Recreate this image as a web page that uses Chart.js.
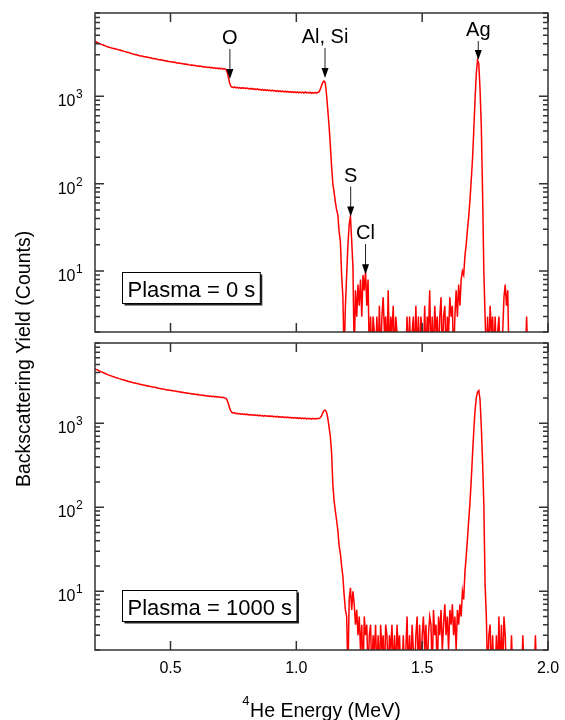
<!DOCTYPE html>
<html>
<head>
<meta charset="utf-8">
<script src="https://cdn.jsdelivr.net/npm/chart.js@4.4.1/dist/chart.umd.min.js"></script>
<style>
  html, body { margin: 0; padding: 0; background: #fff; }
  #wrap { position: relative; width: 565px; height: 720px; }
  #wrap canvas { position: absolute; left: 0; top: 0; }
</style>
</head>
<body>
<div id="wrap">
  <canvas id="topPanel" width="565" height="720"></canvas>
  <canvas id="bottomPanel" width="565" height="720"></canvas>
</div>
<script>
// RBS spectra, counts per channel. Channel 0 = 0.200 MeV, 5 keV per channel.
const firstChannelMeV = 0.2;
const channelWidthMeV = 0.005;

const counts0s = [
  4300,4190,4130,4050,4000,3940,3890,3840,3790,3730,3700,3640,3630,3570,3560,3510,3530,3460,3450,3400,
  3390,3330,3320,3270,3250,3220,3170,3180,3110,3100,3060,3040,2990,3010,2950,2930,2900,2890,2870,2840,
  2840,2800,2820,2760,2760,2730,2700,2720,2670,2670,2640,2620,2640,2590,2590,2570,2540,2560,2510,2510,
  2490,2470,2490,2440,2450,2410,2400,2420,2370,2370,2360,2330,2350,2300,2320,2290,2270,2290,2250,2270,
  2240,2220,2240,2200,2220,2180,2190,2160,2180,2150,2140,2160,2120,2140,2100,2120,2090,2110,2070,2100,
  2060,2090,2050,2070,2040,1900,1650,1420,1300,1270,1260,1285,1250,1270,1240,1260,1235,1255,1230,1250,
  1225,1245,1215,1235,1210,1230,1200,1220,1195,1215,1190,1205,1180,1200,1170,1190,1165,1185,1160,1180,
  1155,1175,1150,1165,1140,1160,1135,1155,1130,1150,1125,1145,1120,1140,1115,1135,1110,1130,1105,1125,
  1100,1125,1095,1120,1100,1115,1090,1120,1095,1110,1090,1115,1085,1105,1090,1110,1085,1105,1120,1200,
  1320,1440,1500,1420,1050,700,460,280,160,100,80,62,50,44,28,22,9,5,1,4,
  9,20,34,42,22,11,1,6,3,7,4,8,3,9,6,10,4,8,1,3,
  1,3,2,1,3,1,4,1,3,5,2,3,1,6,1,3,2,4,1,3,
  2,1,1,2,1,1,2,1,3,1,3,1,2,3,1,4,1,3,1,3,
  2,1,4,1,3,2,6,1,3,1,4,2,3,1,3,5,1,3,4,1,
  3,2,5,3,4,1,3,6,3,7,4,8,10,9,15,20,30,42,65,110,
  190,400,900,1800,2600,2350,1200,450,80,10,3,1,3,1,4,2,3,1,3,1,
  2,3,1,1,2,5,7,4,6,1,2,1,1,2,1,1,2,1,1,2,
  1,1,1,3,1,2,1,1,2,1,1,1,2,1,1,1,2,1,1,1,
  1
];

const counts1000s = [
  4450,4370,4310,4210,4170,4070,4040,3950,3910,3850,3790,3730,3700,3640,3610,3550,3520,3460,3450,3390,
  3370,3310,3300,3240,3240,3180,3170,3120,3110,3070,3050,3010,3000,2960,2960,2910,2910,2870,2870,2820,
  2820,2780,2790,2750,2740,2710,2700,2670,2670,2630,2620,2590,2590,2560,2560,2530,2520,2490,2500,2460,
  2470,2430,2440,2410,2410,2380,2380,2350,2360,2320,2330,2300,2300,2270,2290,2250,2260,2230,2240,2210,
  2210,2180,2200,2160,2170,2140,2160,2120,2130,2100,2120,2080,2100,2070,2090,2060,2070,2050,2060,2030,
  2040,2020,2030,2000,1980,1880,1700,1510,1390,1340,1320,1330,1300,1310,1290,1300,1280,1295,1270,1285,
  1265,1280,1255,1270,1250,1260,1240,1255,1235,1250,1225,1245,1220,1235,1215,1230,1210,1225,1205,1220,
  1200,1215,1190,1210,1185,1205,1180,1195,1175,1190,1170,1185,1165,1180,1160,1175,1155,1170,1150,1165,
  1145,1160,1140,1155,1135,1150,1130,1150,1125,1145,1125,1140,1120,1140,1125,1135,1130,1140,1135,1160,
  1220,1330,1410,1430,1350,1150,900,700,450,190,120,90,70,53,35,28,20,15,9,6,
  5,1,8,11,6,10,7,4,6,3,5,2,4,1,5,3,4,1,3,4,
  1,3,2,4,1,3,1,4,2,3,1,4,3,1,3,2,4,1,3,1,
  4,2,3,1,1,3,1,2,5,1,3,1,4,2,1,3,5,1,4,1,
  3,5,2,4,1,3,5,4,1,6,3,4,1,5,3,6,2,4,7,3,
  5,2,6,4,7,3,5,2,6,4,7,5,10,8,17,26,42,70,115,210,
  420,800,1400,2000,2350,2450,1900,900,350,110,12,5,1,3,4,1,3,1,1,3,
  1,5,1,4,1,5,3,1,1,1,1,3,1,1,2,1,1,1,2,1,
  3,1,1,2,1,1,1,1,2,1,3,1,1,1,2,1,1,1,1,1,
  1
];

const energyTicks = [0.5, 1.0, 1.5, 2.0];
const decadeTicks = [10, 100, 1000];
const captions = ['Plasma = 0 s', 'Plasma = 1000 s'];

// peak markers on the 0 s spectrum
const peakLabels = ['O', 'Al, Si', 'S', 'Cl', 'Ag'];
const peakEnergies = [0.736, 1.114, 1.216, 1.275, 1.723];
const peakCounts = [1580, 1620, 42, 9.2, 2600];

const energies = counts0s.map((_, i) => +(firstChannelMeV + i * channelWidthMeV).toFixed(3));

const FONT = "'Liberation Sans', Arial, Helvetica, sans-serif";

const rbsFrame = {
  id: 'rbsFrame',
  afterDatasetsDraw(chart, args, opts) {
    const { ctx, chartArea: a, scales: { x, y } } = chart;
    ctx.save();

    // box + inward ticks on all four sides
    ctx.strokeStyle = '#333';
    ctx.lineWidth = 1.5;
    ctx.strokeRect(a.left, a.top, a.right - a.left, a.bottom - a.top);
    ctx.beginPath();
    energyTicks.forEach(v => {
      const px = x.getPixelForValue(v);
      ctx.moveTo(px, a.bottom); ctx.lineTo(px, a.bottom - 9);
      ctx.moveTo(px, a.top); ctx.lineTo(px, a.top + 9);
    });
    [1, 10, 100, 1000].forEach(d => {
      for (let m = 1; m <= 9; m++) {
        const v = d * m;
        if (v < y.min || v > y.max) continue;
        const py = y.getPixelForValue(v);
        const len = m === 1 ? 9 : 5;
        ctx.moveTo(a.left, py); ctx.lineTo(a.left + len, py);
        ctx.moveTo(a.right, py); ctx.lineTo(a.right - len, py);
      }
    });
    ctx.stroke();

    // decade labels 10^n
    ctx.fillStyle = '#000';
    ctx.textBaseline = 'alphabetic';
    decadeTicks.forEach(v => {
      const py = y.getPixelForValue(v);
      const xr = a.left - 19.5;
      ctx.font = '16px ' + FONT;
      ctx.textAlign = 'right';
      ctx.fillText('10', xr, py + 10);
      ctx.font = '12px ' + FONT;
      ctx.textAlign = 'left';
      ctx.fillText(String(Math.round(Math.log10(v))), xr + 0.5, py + 2);
    });

    if (opts.showEnergyLabels) {
      ctx.font = '16px ' + FONT;
      ctx.textAlign = 'center';
      energyTicks.forEach(v => {
        ctx.fillText(v.toFixed(1), x.getPixelForValue(v), a.bottom + 23);
      });
    }

    // caption box with shadow
    if (opts.caption) {
      ctx.font = '22px ' + FONT;
      const tw = ctx.measureText(opts.caption).width;
      const bx = a.left + 27.5, by = a.bottom - 59.5, bw = tw + 10, bh = 31;
      ctx.fillStyle = '#222';
      ctx.fillRect(bx + 2, by + 2, bw, bh);
      ctx.fillStyle = '#fff';
      ctx.fillRect(bx, by, bw, bh);
      ctx.strokeStyle = '#000';
      ctx.lineWidth = 1;
      ctx.strokeRect(bx, by, bw, bh);
      ctx.fillStyle = '#000';
      ctx.textAlign = 'left';
      ctx.fillText(opts.caption, bx + 5, by + 24);
    }

    // arrows over peaks
    if (opts.showPeaks) {
      peakLabels.forEach((label, i) => {
        const px = x.getPixelForValue(peakEnergies[i]);
        const py = y.getPixelForValue(peakCounts[i]);
        const len = label === 'Ag' ? 19 : 30;
        ctx.strokeStyle = '#222';
        ctx.fillStyle = '#000';
        ctx.lineWidth = 1;
        ctx.beginPath();
        ctx.moveTo(px, py - len); ctx.lineTo(px, py - 8);
        ctx.stroke();
        ctx.beginPath();
        ctx.moveTo(px, py); ctx.lineTo(px - 3.5, py - 10); ctx.lineTo(px + 3.5, py - 10);
        ctx.closePath();
        ctx.fill();
        ctx.font = '20px ' + FONT;
        ctx.textAlign = 'center';
        ctx.fillText(label, px, py - len - 5);
      });
    }

    // axis titles (drawn once, from the lower panel)
    if (opts.showTitles) {
      ctx.fillStyle = '#000';
      const main = 'He Energy (MeV)';
      ctx.font = '19.5px ' + FONT;
      const wm = ctx.measureText(main).width;
      ctx.font = '13px ' + FONT;
      const ws = ctx.measureText('4').width;
      const start = (a.left + a.right) / 2 - (wm + ws + 0.5) / 2;
      ctx.textAlign = 'left';
      ctx.fillText('4', start, a.bottom + 55);
      ctx.font = '19.5px ' + FONT;
      ctx.fillText(main, start + ws + 0.5, a.bottom + 67);

      ctx.translate(29.5, 487);
      ctx.rotate(-Math.PI / 2);
      ctx.fillText('Backscattering Yield (Counts)', 0, 0);
    }
    ctx.restore();
  }
};

function panel(canvasId, counts, padding, frameOpts) {
  return new Chart(document.getElementById(canvasId), {
    type: 'line',
    data: {
      datasets: [{
        data: energies.map((e, i) => ({ x: e, y: counts[i] })),
        borderColor: '#ff0000',
        borderWidth: 1.5,
        pointRadius: 0,
        tension: 0,
        fill: false
      }]
    },
    options: {
      responsive: false,
      animation: false,
      devicePixelRatio: 1,
      layout: { padding: padding },
      plugins: {
        legend: { display: false },
        tooltip: { enabled: false },
        rbsFrame: frameOpts
      },
      scales: {
        x: { type: 'linear', min: 0.2, max: 2.0, display: false },
        y: { type: 'logarithmic', min: 2, max: 9000, display: false }
      }
    },
    plugins: [rbsFrame]
  });
}

panel('topPanel', counts0s, { left: 95, right: 17, top: 13, bottom: 388 },
  { caption: captions[0], showPeaks: true });
panel('bottomPanel', counts1000s, { left: 95, right: 17, top: 343, bottom: 70 },
  { caption: captions[1], showEnergyLabels: true, showTitles: true });
</script>
</body>
</html>
